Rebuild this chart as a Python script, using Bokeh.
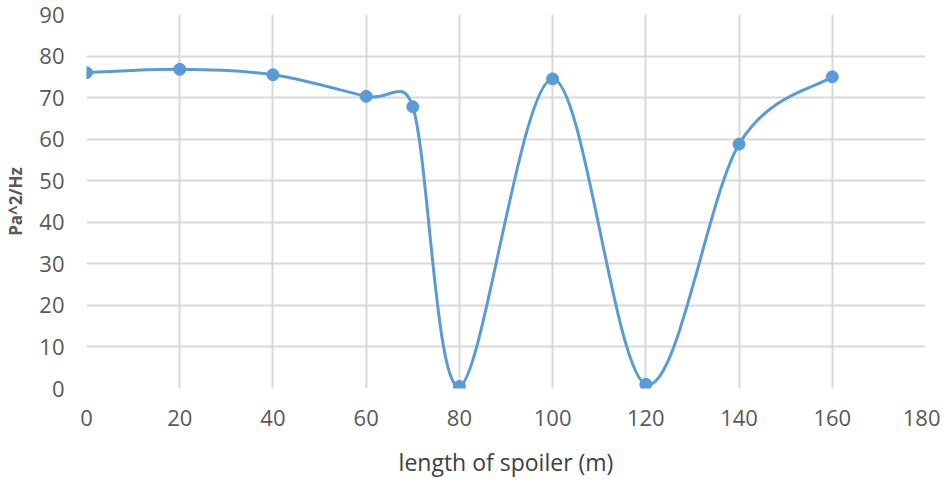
import math
from bokeh.plotting import figure
from bokeh.models import FixedTicker
from bokeh.embed import file_html
from bokeh.resources import INLINE

# data
lengths = [0, 20, 40, 60, 70, 80, 100, 120, 140, 160]
psd = [76.0, 76.8, 75.5, 70.3, 67.8, 0.5, 74.5, 1.0, 58.8, 75.0]
x_ticks = [0, 20, 40, 60, 80, 100, 120, 140, 160, 180]
y_ticks = [0, 10, 20, 30, 40, 50, 60, 70, 80, 90]

BLUE = "#5B9BD5"
GRID = "#D9D9D9"
TICK = "#595959"

# smoothed-line control points (Catmull-Rom style, as in spreadsheet "smoothed line")
def arm(pa, pb, seg):
    dx, dy = (pb[0] - pa[0]) / 6.0, (pb[1] - pa[1]) / 6.0
    L = math.hypot(dx, dy)
    lim = 0.75 * seg
    if L > lim and L > 0:
        dx, dy = dx * lim / L, dy * lim / L
    return dx, dy

pts = list(zip(lengths, psd))
n = len(pts)
x0, y0, x1, y1, cx0, cy0, cx1, cy1 = ([] for _ in range(8))
for i in range(n - 1):
    p0 = pts[i - 1] if i > 0 else pts[i]
    p1 = pts[i]
    p2 = pts[i + 1]
    p3 = pts[i + 2] if i + 2 < n else pts[i + 1]
    seg = math.hypot(p2[0] - p1[0], p2[1] - p1[1])
    a1 = arm(p0, p2, seg)
    a2 = arm(p1, p3, seg)
    x0.append(p1[0]); y0.append(p1[1])
    x1.append(p2[0]); y1.append(p2[1])
    cx0.append(p1[0] + a1[0]); cy0.append(p1[1] + a1[1])
    cx1.append(p2[0] - a2[0]); cy1.append(p2[1] - a2[1])

p = figure(width=940, height=480, output_backend="svg",
           toolbar_location=None, x_range=(0, 180), y_range=(0, 90),
           min_border_left=86, min_border_right=15, min_border_top=14,
           min_border_bottom=90)
p.outline_line_color = None
p.background_fill_color = "white"
p.border_fill_color = "white"

p.bezier(x0=x0, y0=y0, x1=x1, y1=y1, cx0=cx0, cy0=cy0, cx1=cx1, cy1=cy1,
         line_color=BLUE, line_width=3)
p.scatter(lengths, psd, size=12, fill_color=BLUE, line_color=BLUE)

for ax in (p.xaxis, p.yaxis):
    ax.axis_line_color = None
    ax.major_tick_line_color = None
    ax.minor_tick_line_color = None
    ax.major_tick_out = 0
    ax.major_tick_in = 0
    ax.minor_tick_out = 0
    ax.major_label_text_font = "Open Sans"
    ax.major_label_text_font_size = "22px"
    ax.major_label_text_color = TICK
    ax.axis_label_text_font = "Open Sans"
    ax.axis_label_text_font_style = "normal"
    ax.axis_label_text_color = "#404040"

p.xaxis.ticker = FixedTicker(ticks=x_ticks)
p.yaxis.ticker = FixedTicker(ticks=y_ticks)
p.xaxis.major_label_standoff = 21
p.yaxis.major_label_standoff = 22
p.xaxis.axis_label = "length of spoiler (m)"
p.xaxis.axis_label_text_font_size = "23px"
p.xaxis.axis_label_standoff = 17
p.yaxis.axis_label = "Pa^2/Hz"
p.yaxis.axis_label_text_font_size = "17px"
p.yaxis.axis_label_text_font_style = "bold"
p.yaxis.axis_label_text_color = "#595959"
p.yaxis.axis_label_standoff = 9

p.xgrid.ticker = FixedTicker(ticks=x_ticks)
p.ygrid.ticker = FixedTicker(ticks=y_ticks)
p.xgrid.grid_line_color = GRID
p.ygrid.grid_line_color = GRID
p.xgrid.grid_line_width = 2
p.ygrid.grid_line_width = 2

open("out.html", "w").write(file_html(p, INLINE))
